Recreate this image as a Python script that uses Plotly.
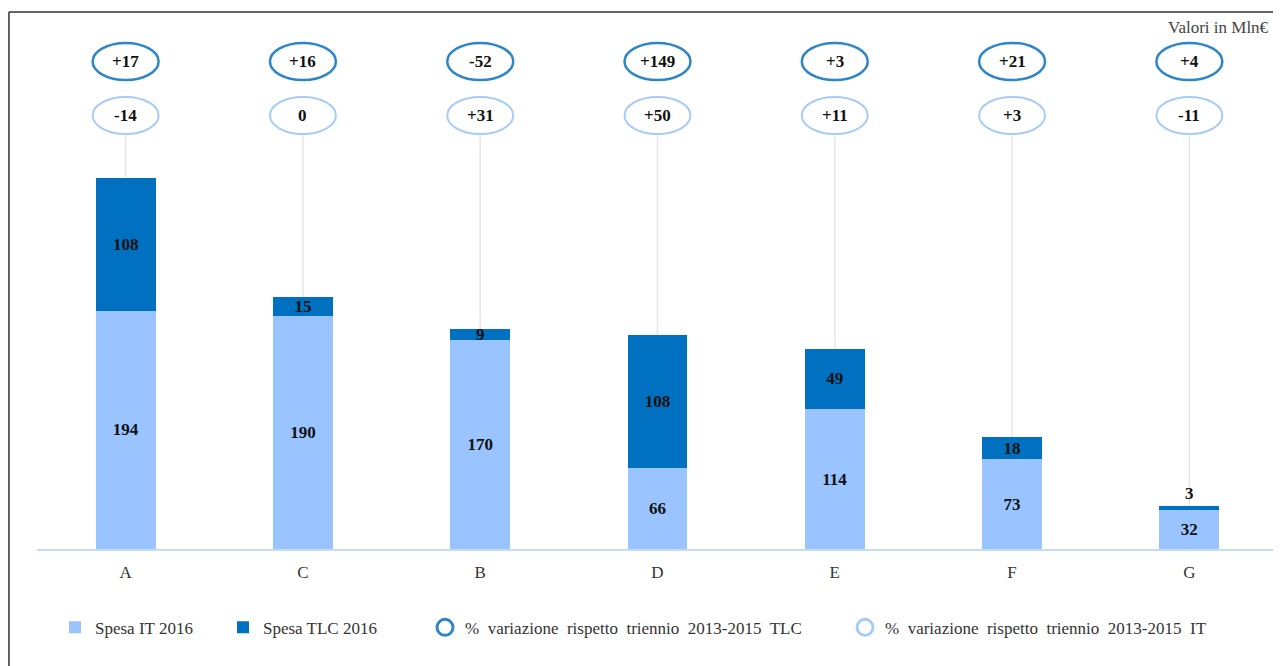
import plotly.graph_objects as go

categories = ["A", "C", "B", "D", "E", "F", "G"]
spesa_it = [194, 190, 170, 66, 114, 73, 32]
spesa_tlc = [108, 15, 9, 108, 49, 18, 3]
var_tlc = ["+17", "+16", "-52", "+149", "+3", "+21", "+4"]
var_it = ["-14", "0", "+31", "+50", "+11", "+3", "-11"]

IT_COLOR = "#99c4ff"
TLC_COLOR = "#0070c0"
TLC_RING = "#2e86c8"
IT_RING = "#a6cbfa"
SERIF = "Liberation Serif"
SP = "\u00a0 "

Y_MAX = 430.8
TLC_Y = 0.9216
IT_Y = 0.8195
EH = 0.035   # half height of bubbles (paper)
EW = 0.186   # half width of bubbles (x units)

x_idx = list(range(len(categories)))
tlc_pos = ["outside" if v < 5 else "inside" for v in spesa_tlc]

fig = go.Figure()
fig.add_trace(go.Bar(
    x=x_idx, y=spesa_it, name="Spesa IT 2016", marker_color=IT_COLOR,
    marker_line_width=0, width=0.338,
    text=[str(v) for v in spesa_it], textposition="inside", insidetextanchor="middle",
    textangle=0, constraintext="none",
    textfont=dict(family=SERIF, size=17, color="#111111", weight="bold"),
    legend="legend", hoverinfo="skip"))
fig.add_trace(go.Bar(
    x=x_idx, y=spesa_tlc, name="Spesa TLC 2016", marker_color=TLC_COLOR,
    marker_line_width=0, width=0.338,
    text=[str(v) for v in spesa_tlc], textposition=tlc_pos, insidetextanchor="middle",
    textangle=0, constraintext="none", cliponaxis=False,
    textfont=dict(family=SERIF, size=17, color="#111111", weight="bold"),
    legend="legend2", hoverinfo="skip"))
fig.add_trace(go.Scatter(
    x=[None], y=[None], mode="markers",
    name=SP.join(["%", "variazione", "rispetto", "triennio", "2013-2015", "TLC"]),
    marker=dict(symbol="circle-open", size=16, color=TLC_RING, line=dict(width=3, color=TLC_RING)),
    legend="legend3"))
fig.add_trace(go.Scatter(
    x=[None], y=[None], mode="markers",
    name=SP.join(["%", "variazione", "rispetto", "triennio", "2013-2015", "IT"]),
    marker=dict(symbol="circle-open", size=16, color=IT_RING, line=dict(width=3, color=IT_RING)),
    legend="legend4"))

shapes = []
annotations = []
for i in x_idx:
    total = spesa_it[i] + spesa_tlc[i]
    shapes.append(dict(type="line", xref="x", yref="y", x0=i, x1=i,
                       y0=total, y1=(IT_Y - EH) * Y_MAX,
                       line=dict(color="#e6e6e6", width=1.5), layer="below"))
    shapes.append(dict(type="circle", xref="x", yref="paper",
                       x0=i - EW, x1=i + EW, y0=TLC_Y - EH, y1=TLC_Y + EH,
                       line=dict(color=TLC_RING, width=2.5)))
    shapes.append(dict(type="circle", xref="x", yref="paper",
                       x0=i - EW, x1=i + EW, y0=IT_Y - EH, y1=IT_Y + EH,
                       line=dict(color=IT_RING, width=2)))
    annotations.append(dict(x=i, y=TLC_Y, xref="x", yref="paper", text=var_tlc[i],
                            showarrow=False, yanchor="middle",
                            font=dict(family=SERIF, size=17, color="#111111", weight="bold")))
    annotations.append(dict(x=i, y=IT_Y, xref="x", yref="paper", text=var_it[i],
                            showarrow=False, yanchor="middle",
                            font=dict(family=SERIF, size=17, color="#111111", weight="bold")))

annotations.append(dict(x=0.994, y=0.985, xref="paper", yref="paper", text="Valori in Mln€",
                        showarrow=False, xanchor="right", yanchor="middle",
                        font=dict(family=SERIF, size=17, color="#444444")))

# frame (left and top edges)
shapes.append(dict(type="line", xref="paper", yref="paper", x0=-0.0226, x1=-0.0226,
                   y0=-0.3, y1=1.0151, line=dict(color="#333333", width=1.5)))
shapes.append(dict(type="line", xref="paper", yref="paper", x0=-0.0226, x1=1.05,
                   y0=1.0151, y1=1.0151, line=dict(color="#333333", width=1.5)))

legend_common = dict(orientation="h", yanchor="middle", y=-0.149, xanchor="left",
                     bgcolor="rgba(0,0,0,0)", font=dict(family=SERIF, size=17, color="#333333"))

fig.update_layout(
    width=1273, height=658,
    margin=dict(l=29, r=3, t=12, b=117),
    paper_bgcolor="white", plot_bgcolor="white",
    barmode="stack", bargap=0.66,
    showlegend=True,
    xaxis=dict(range=[-0.5, 6.5], tickmode="array", tickvals=x_idx, ticktext=categories,
               showline=True, linecolor="#c5dcf2", linewidth=2, showgrid=False,
               zeroline=False, ticks="", ticklabelstandoff=7,
               tickfont=dict(family=SERIF, size=17, color="#333333"),
               fixedrange=True),
    yaxis=dict(range=[0, Y_MAX], visible=False, showgrid=False, zeroline=False, fixedrange=True),
    legend=dict(legend_common, x=(55 - 37) / 1241),
    legend2=dict(legend_common, x=(223 - 37) / 1241),
    legend3=dict(legend_common, x=(425 - 37) / 1241),
    legend4=dict(legend_common, x=(845 - 37) / 1241),
    shapes=shapes, annotations=annotations,
)

fig.write_html("out.html")
